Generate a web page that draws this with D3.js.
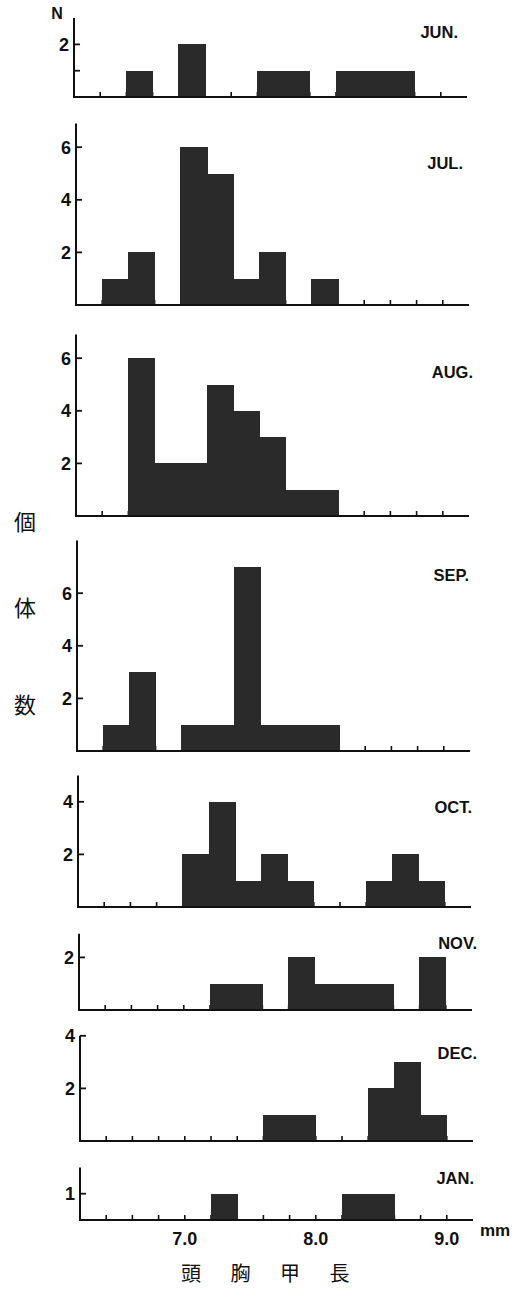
<!DOCTYPE html>
<html><head><meta charset="utf-8">
<script src="https://cdn.jsdelivr.net/npm/d3@7"></script>
<style>body{margin:0;background:#fff}svg{display:block}</style>
</head><body>
<script>
// ---- data ----
const binStarts = [6.4, 6.6, 6.8, 7.0, 7.2, 7.4, 7.6, 7.8, 8.0, 8.2, 8.4, 8.6, 8.8];
const binWidth = 0.2;
const months = ["JUN.", "JUL.", "AUG.", "SEP.", "OCT.", "NOV.", "DEC.", "JAN."];
const junCounts = [0, 1, 0, 2, 0, 0, 1, 1, 0, 1, 1, 1, 0];
const julCounts = [1, 2, 0, 6, 5, 1, 2, 0, 1, 0, 0, 0, 0];
const augCounts = [0, 6, 2, 2, 5, 4, 3, 1, 1, 0, 0, 0, 0];
const sepCounts = [1, 3, 0, 1, 1, 7, 1, 1, 1, 0, 0, 0, 0];
const octCounts = [0, 0, 0, 2, 4, 1, 2, 1, 0, 0, 1, 2, 1];
const novCounts = [0, 0, 0, 0, 1, 1, 0, 2, 1, 1, 1, 0, 2];
const decCounts = [0, 0, 0, 0, 0, 0, 1, 1, 0, 0, 2, 3, 1];
const janCounts = [0, 0, 0, 0, 1, 0, 0, 0, 0, 1, 1, 0, 0];
const seriesCounts = [junCounts, julCounts, augCounts, sepCounts, octCounts, novCounts, decCounts, janCounts];
const yTickValues = [[1, 2], [2, 4, 6], [2, 4, 6], [2, 4, 6], [2, 4], [2], [2, 4], [1]];
const yTickLabels = [["", "2"], ["2", "4", "6"], ["2", "4", "6"], ["2", "4", "6"], ["2", "4"], ["2"], ["2", "4"], ["1"]];
const yAxisMax = [3, 6.9, 6.9, 8, 5, 2.9, 4, 2];
const xDomain = [6.2, 9.2];
const xMinorTicks = [6.4, 6.6, 6.8, 7.0, 7.2, 7.4, 7.6, 7.8, 8.0, 8.2, 8.4, 8.6, 8.8, 9.0];
const xTickLabels = [[7.0, "7.0"], [8.0, "8.0"], [9.0, "9.0"]];
const yLabelChars = ["個", "体", "数"];
const xTitleChars = ["頭", "胸", "甲", "長"];

// ---- layout (positions only) ----
const baselines = [97, 305, 516, 751, 907, 1010, 1141, 1220];
const axisX0 = [74, 76, 76, 77, 78, 79, 80, 80];
const monthLabelY = [38, 169, 378, 581, 813, 949, 1059, 1184];
const monthLabelRight = [458, 463, 473, 469, 472, 477, 477, 474];
const unitPx = 26.3;
const xSpan = 393;

const W = 517, H = 1290;
const svg = d3.select("body").append("svg").attr("width", W).attr("height", H);
const barColor = "#2a2a2a";
const numFont = "'Liberation Sans', Arial, sans-serif";

months.forEach((m, i) => {
  const x = d3.scaleLinear().domain(xDomain).range([axisX0[i], axisX0[i] + xSpan]);
  const y = d3.scaleLinear().domain([0, yAxisMax[i]]).range([baselines[i], baselines[i] - yAxisMax[i] * unitPx]);
  const g = svg.append("g");
  const counts = seriesCounts[i];

  // minor x ticks (upward)
  g.selectAll("line.xt").data(xMinorTicks).join("line")
    .attr("x1", d => x(d)).attr("x2", d => x(d))
    .attr("y1", y(0)).attr("y2", y(0) - 5)
    .attr("stroke", "#111").attr("stroke-width", 1.6);

  // bars (slightly overlapped to avoid seams)
  g.selectAll("rect").data(binStarts.map((b, k) => ({ b, c: counts[k] })).filter(d => d.c > 0)).join("rect")
    .attr("x", d => x(d.b) - 0.5).attr("width", d => x(d.b + binWidth) - x(d.b) + 1)
    .attr("y", d => y(d.c)).attr("height", d => y(0) - y(d.c))
    .attr("fill", barColor).attr("shape-rendering", "crispEdges");

  // x axis baseline
  g.append("line").attr("x1", x(xDomain[0])).attr("x2", x(xDomain[1]))
    .attr("y1", y(0)).attr("y2", y(0)).attr("stroke", "#111").attr("stroke-width", 2);

  // y axis
  g.append("line").attr("x1", x(xDomain[0])).attr("x2", x(xDomain[0]))
    .attr("y1", y(0) + 1).attr("y2", y(yAxisMax[i])).attr("stroke", "#111").attr("stroke-width", 2);

  // y ticks
  g.selectAll("line.yt").data(yTickValues[i]).join("line")
    .attr("x1", x(xDomain[0])).attr("x2", x(xDomain[0]) + 6)
    .attr("y1", d => y(d)).attr("y2", d => y(d))
    .attr("stroke", "#111").attr("stroke-width", 1.8);

  g.selectAll("text.yl").data(yTickValues[i].map((v, k) => ({ v, t: yTickLabels[i][k] }))).join("text")
    .attr("x", x(xDomain[0]) - 5).attr("y", d => y(d.v)).attr("dy", "0.36em")
    .attr("text-anchor", "end").attr("font-family", numFont).attr("font-weight", "bold")
    .attr("font-size", 18).attr("fill", "#111").text(d => d.t);

  // month label
  g.append("text").attr("x", monthLabelRight[i]).attr("y", monthLabelY[i]).attr("text-anchor", "end")
    .attr("font-family", numFont).attr("font-weight", "bold").attr("font-size", 16.5)
    .attr("fill", "#111").text(m);

  if (i === months.length - 1) {
    g.selectAll("text.xl").data(xTickLabels).join("text")
      .attr("x", d => x(d[0])).attr("y", y(0) + 25).attr("text-anchor", "middle")
      .attr("font-family", numFont).attr("font-weight", "bold").attr("font-size", 18)
      .attr("fill", "#111").text(d => d[1]);
    g.append("text").attr("x", 480).attr("y", y(0) + 16)
      .attr("font-family", numFont).attr("font-weight", "bold").attr("font-size", 17)
      .attr("fill", "#111").text("mm");
  }
});

// N label
svg.append("text").attr("x", 57).attr("y", 19).attr("text-anchor", "middle")
  .attr("font-family", numFont).attr("font-weight", "bold").attr("font-size", 16).attr("fill", "#111").text("N");

// y title
const cjk = "'Noto Sans CJK JP', 'Noto Sans CJK SC', sans-serif";
svg.selectAll("text.ylab").data(yLabelChars).join("text")
  .attr("x", 25).attr("y", (d, k) => [522, 608, 705][k]).attr("dy", "0.36em")
  .attr("text-anchor", "middle").attr("font-family", cjk).attr("font-size", 22)
  .attr("fill", "#111").text(d => d);

// x title
svg.selectAll("text.xlab").data(xTitleChars).join("text")
  .attr("x", (d, k) => 191 + k * 49.5).attr("y", 1281)
  .attr("text-anchor", "middle").attr("font-family", cjk).attr("font-size", 20)
  .attr("fill", "#111").text(d => d);
</script>
</body></html>
